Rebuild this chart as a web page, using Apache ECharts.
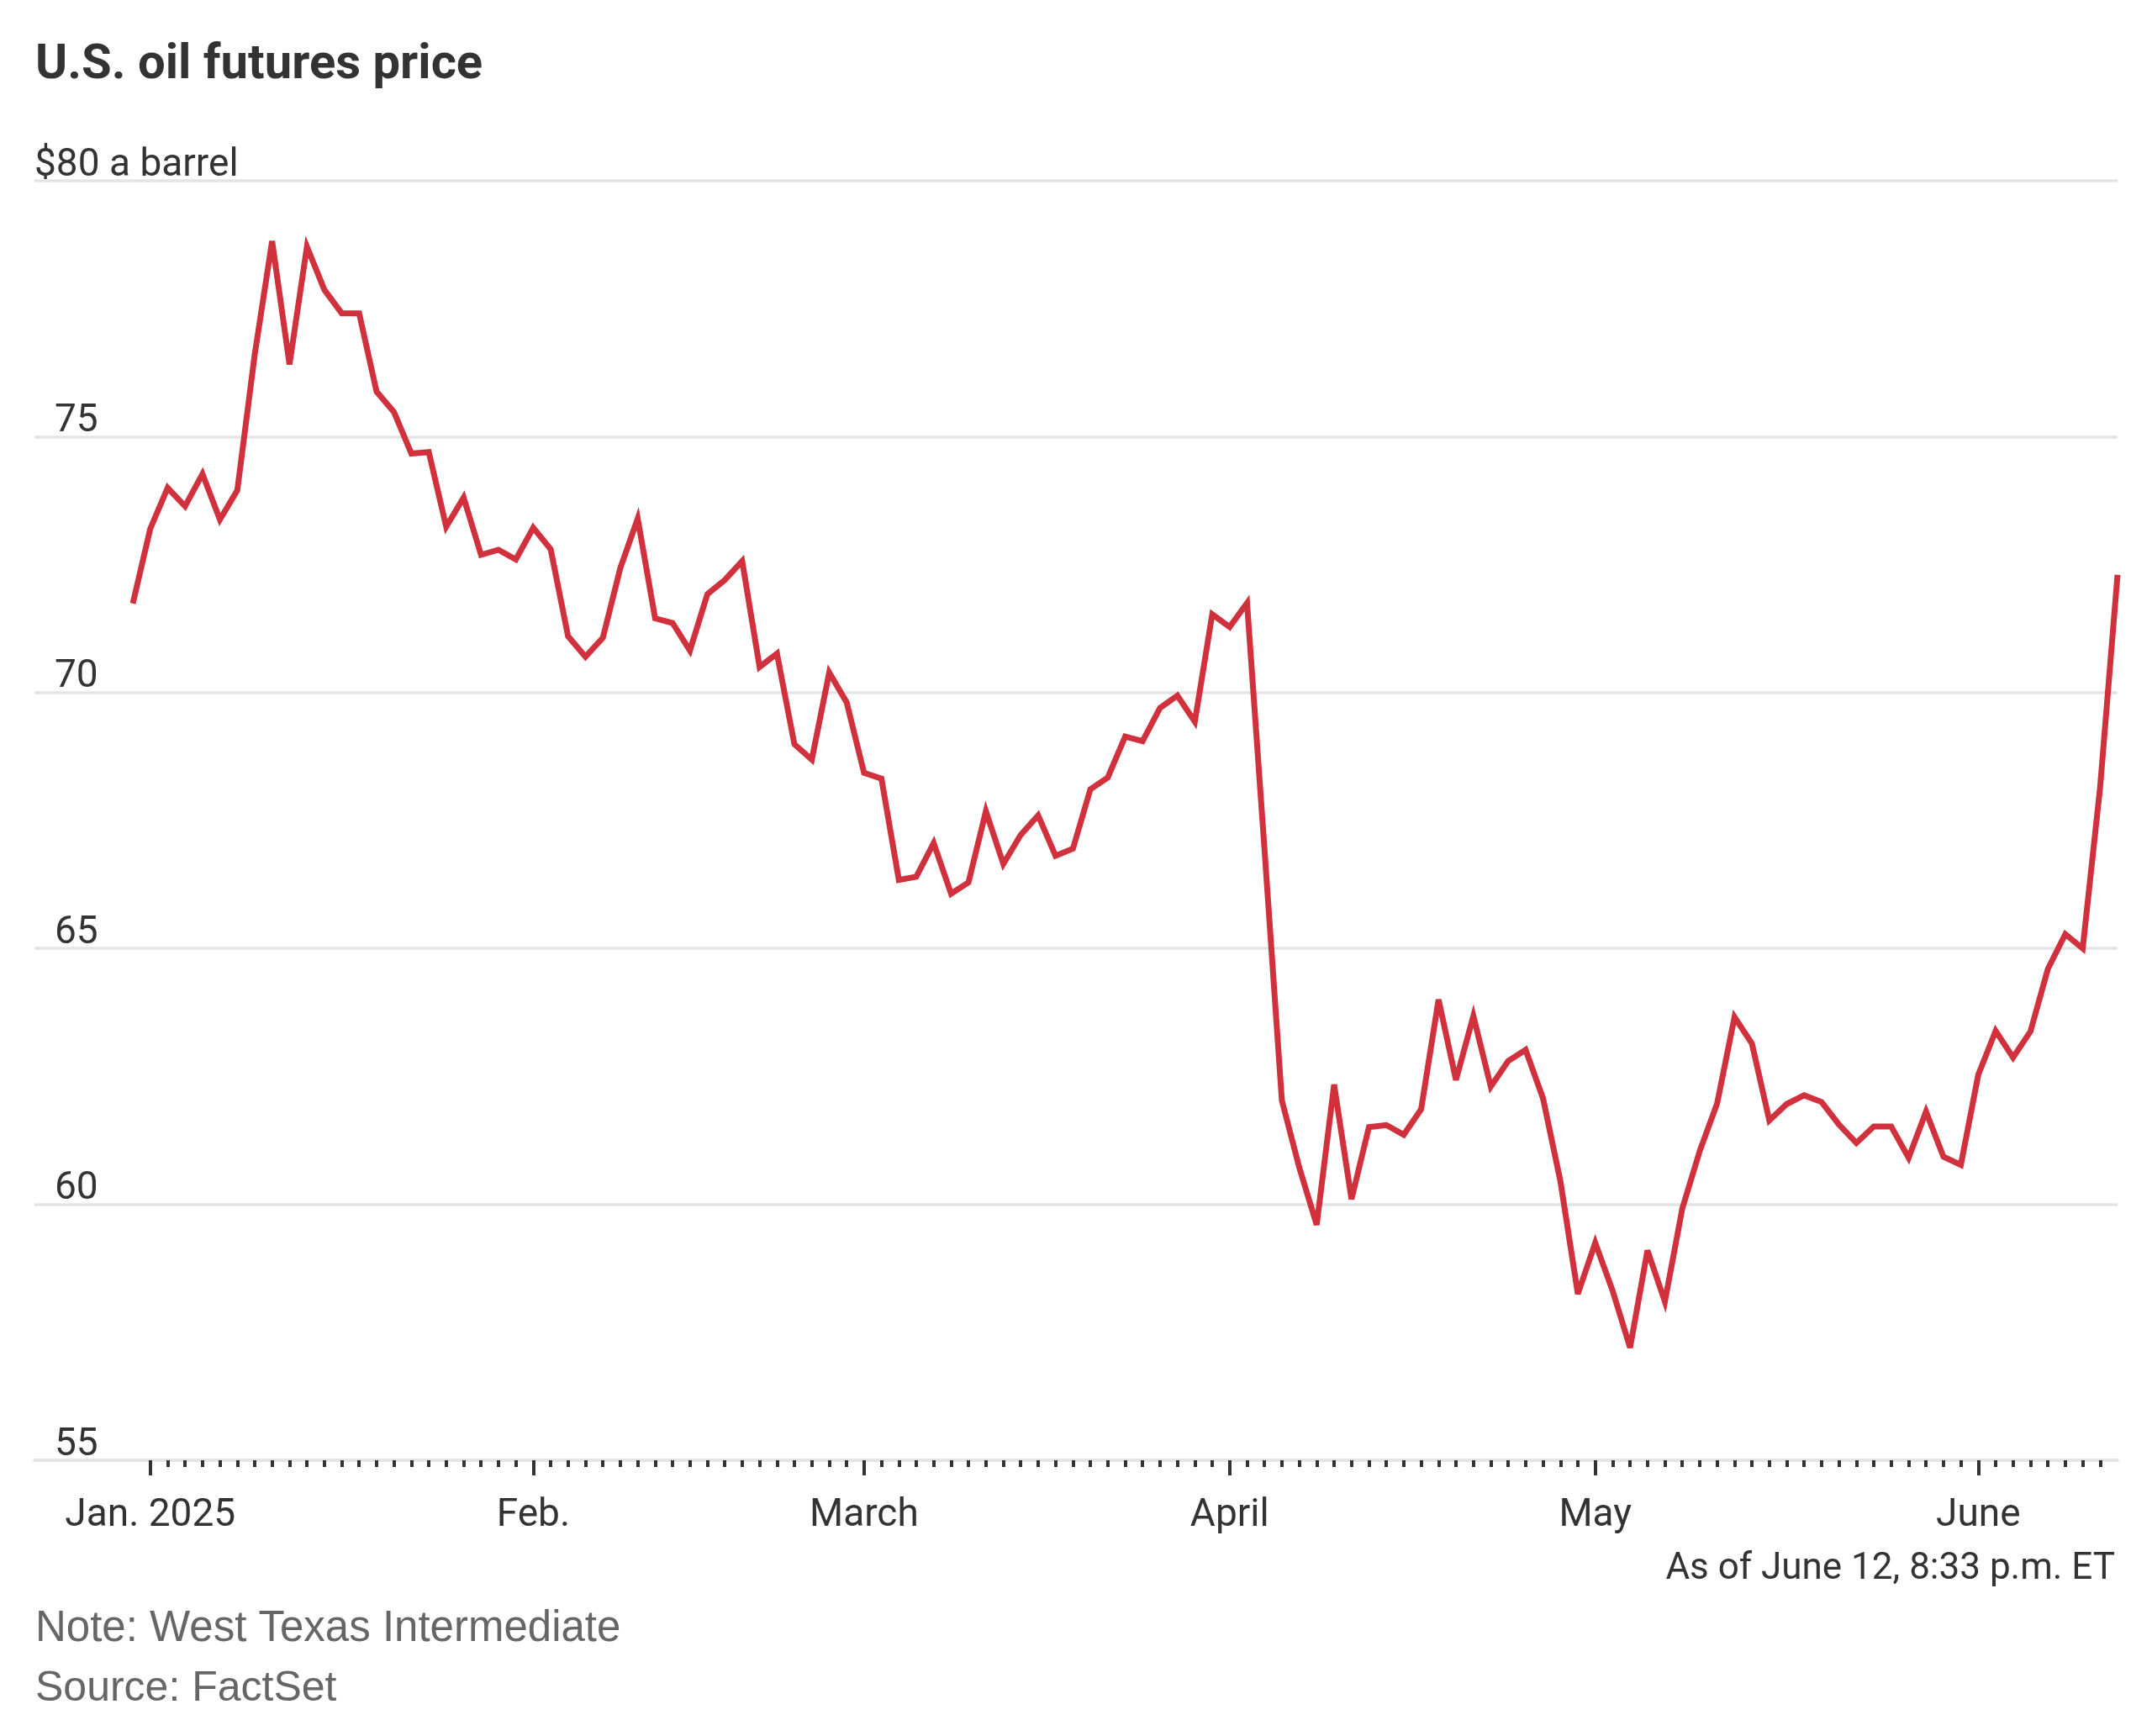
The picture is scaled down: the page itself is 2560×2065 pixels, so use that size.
<!DOCTYPE html>
<html>
<head>
<meta charset="utf-8">
<script src="https://cdn.jsdelivr.net/npm/echarts@6.0.0/dist/echarts.min.js"></script>
<style>
html,body{margin:0;padding:0;background:#fff;}
#chart{width:2560px;height:2065px;}
</style>
</head>
<body>
<div id="chart"></div>
<script>
// Trading dates (Dec 31, 2024 – June 12, 2025)
const dates = [
 '2024-12-31',
 '2025-01-02','2025-01-03','2025-01-06','2025-01-07','2025-01-08','2025-01-09','2025-01-10',
 '2025-01-13','2025-01-14','2025-01-15','2025-01-16','2025-01-17','2025-01-20','2025-01-21',
 '2025-01-22','2025-01-23','2025-01-24','2025-01-27','2025-01-28','2025-01-29','2025-01-30','2025-01-31',
 '2025-02-03','2025-02-04','2025-02-05','2025-02-06','2025-02-07','2025-02-10','2025-02-11',
 '2025-02-12','2025-02-13','2025-02-14','2025-02-18','2025-02-19','2025-02-20','2025-02-21',
 '2025-02-24','2025-02-25','2025-02-26','2025-02-27','2025-02-28',
 '2025-03-03','2025-03-04','2025-03-05','2025-03-06','2025-03-07','2025-03-10','2025-03-11',
 '2025-03-12','2025-03-13','2025-03-14','2025-03-17','2025-03-18','2025-03-19','2025-03-20',
 '2025-03-21','2025-03-24','2025-03-25','2025-03-26','2025-03-27','2025-03-28','2025-03-31',
 '2025-04-01','2025-04-02','2025-04-03','2025-04-04','2025-04-07','2025-04-08','2025-04-09',
 '2025-04-10','2025-04-11','2025-04-14','2025-04-15','2025-04-16','2025-04-17','2025-04-21',
 '2025-04-22','2025-04-23','2025-04-24','2025-04-25','2025-04-28','2025-04-29','2025-04-30',
 '2025-05-01','2025-05-02','2025-05-05','2025-05-06','2025-05-07','2025-05-08','2025-05-09',
 '2025-05-12','2025-05-13','2025-05-14','2025-05-15','2025-05-16','2025-05-19','2025-05-20',
 '2025-05-21','2025-05-22','2025-05-23','2025-05-26','2025-05-27','2025-05-28','2025-05-29','2025-05-30',
 '2025-06-02','2025-06-03','2025-06-04','2025-06-05','2025-06-06','2025-06-09','2025-06-10',
 '2025-06-11','2025-06-12'
];

// WTI futures price, $ a barrel
const prices = [
 71.74,
 73.20,74.00,73.64,74.27,73.38,73.95,76.60,
 78.82,76.41,78.71,77.87,77.41,77.41,75.88,
 75.48,74.67,74.70,73.24,73.81,72.69,72.79,72.60,
 73.22,72.80,71.10,70.70,71.07,72.43,73.40,
 71.45,71.36,70.82,71.92,72.20,72.57,70.50,
 70.76,68.99,68.69,70.39,69.81,
 68.43,68.32,66.34,66.40,67.06,66.07,66.29,
 67.68,66.65,67.22,67.60,66.81,66.95,68.11,
 68.34,69.14,69.05,69.70,69.94,69.43,71.53,
 71.28,71.75,66.95,62.03,60.72,59.60,62.34,
 60.10,61.51,61.55,61.36,61.86,64.00,62.43,
 63.68,62.30,62.80,63.02,62.07,60.45,58.25,
 59.25,58.31,57.20,59.10,58.10,59.92,61.04,
 61.97,63.66,63.14,61.64,61.96,62.13,62.00,
 61.56,61.20,61.52,61.52,60.91,61.81,60.93,60.77,
 62.53,63.39,62.87,63.38,64.60,65.28,65.00,
 68.15,72.30
];

const monthLabels = ['Jan. 2025','Feb.','March','April','May','June'];
const monthKeys = ['2025-01','2025-02','2025-03','2025-04','2025-05','2025-06'];
const yTicks = [55,60,65,70,75,80];

const monthIdx = monthKeys.map(k => dates.findIndex(d => d.startsWith(k)));
const dayTicks = dates.map((d,i)=>i).filter(i => i >= 1 && i < dates.length - 1);
const seriesData = prices.map((v,i) => [i, v]);

const narrow = "Roboto,sans-serif";
const wide = "'Liberation Sans',Arial,sans-serif";
const textColor = '#333333';
const gridColor = '#e4e4e4';

const chart = echarts.init(document.getElementById('chart'), null, {renderer:'canvas'});
chart.setOption({
  animation: false,
  backgroundColor: '#ffffff',
  title: [
    {text: 'U.S. oil futures price', left: 37, top: 42,
     textStyle: {fontFamily: narrow, fontWeight: 'bold', fontSize: 58, color: textColor, lineHeight: 62}},
    {text: 'As of June 12, 8:33 p.m. ET', right: 39, top: 1838,
     textStyle: {fontFamily: narrow, fontWeight: 'normal', fontSize: 44, color: textColor, lineHeight: 48}},
    {text: 'Note: West Texas Intermediate', left: 37, top: 1906,
     textStyle: {fontFamily: wide, fontWeight: 'normal', fontSize: 51, color: '#666666', lineHeight: 54}},
    {text: 'Source: FactSet', left: 37, top: 1977,
     textStyle: {fontFamily: wide, fontWeight: 'normal', fontSize: 50, color: '#666666', lineHeight: 54}}
  ],
  grid: {left: 41, right: 41, top: 215, bottom: 328, containLabel: false},
  xAxis: [
    {type: 'value', position: 'bottom', min: -5.65, max: dates.length - 1,
     axisLine: {show: true, lineStyle: {color: gridColor, width: 4}},
     axisTick: {show: true, customValues: dayTicks, length: 8, lineStyle: {color: textColor, width: 4}},
     axisLabel: {show: false},
     splitLine: {show: false}},
    {type: 'value', position: 'bottom', min: -5.65, max: dates.length - 1,
     axisLine: {show: false},
     axisTick: {show: true, customValues: monthIdx, length: 18, lineStyle: {color: textColor, width: 4}},
     axisLabel: {show: true, customValues: monthIdx, margin: 43,
       formatter: v => { const k = monthIdx.indexOf(Math.round(v)); return k >= 0 ? monthLabels[k] : ''; },
       fontFamily: narrow, fontSize: 46, color: textColor},
     splitLine: {show: false}}
  ],
  yAxis: [
    {type: 'value', min: yTicks[0], max: yTicks[yTicks.length-1], interval: 5,
     axisLine: {show: false}, axisTick: {show: false},
     splitLine: {show: true, lineStyle: {color: gridColor, width: 3.5}},
     axisLabel: {inside: true, margin: 24, verticalAlign: 'bottom', align: 'left', lineHeight: 36,
       formatter: v => v === 80 ? '' : String(v),
       fontFamily: narrow, fontSize: 46, color: textColor}},
    {type: 'value', min: yTicks[0], max: yTicks[yTicks.length-1], interval: 5, position: 'left',
     axisLine: {show: false}, axisTick: {show: false}, splitLine: {show: false},
     axisLabel: {inside: true, margin: 0, verticalAlign: 'bottom', align: 'left', lineHeight: 36,
       formatter: v => v === 80 ? '$80 a barrel' : '',
       fontFamily: narrow, fontSize: 46, color: textColor}}
  ],
  series: [{
    type: 'line', xAxisIndex: 0, yAxisIndex: 0, data: seriesData,
    showSymbol: false, symbol: 'none', silent: true,
    lineStyle: {color: '#d0313c', width: 7, join: 'miter', miterLimit: 4}
  }]
});
</script>
</body>
</html>
